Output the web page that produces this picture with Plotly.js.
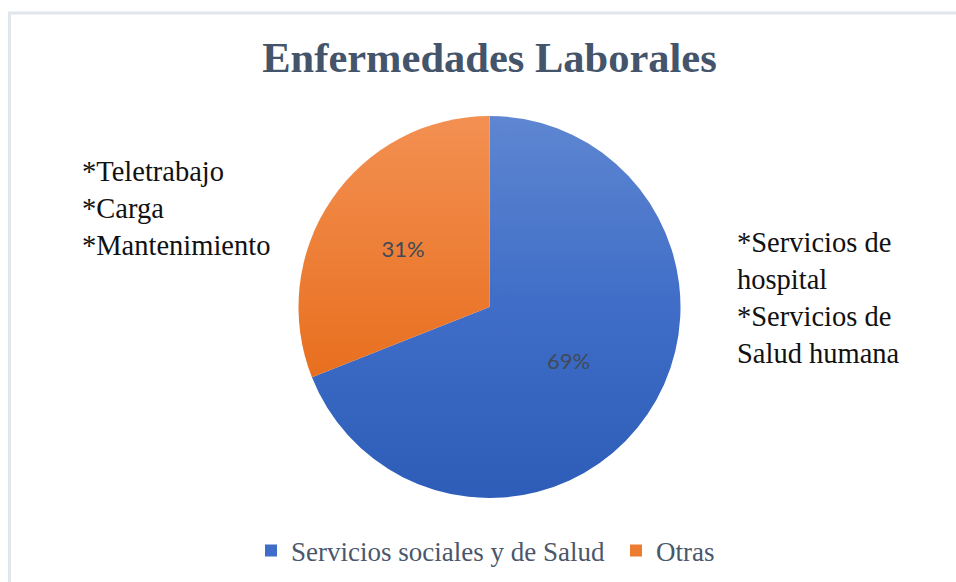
<!DOCTYPE html>
<html>
<head>
<meta charset="utf-8">
<script src="https://cdn.plot.ly/plotly-3.0.1.min.js"></script>
<style>
  html, body { margin: 0; padding: 0; background: #ffffff; }
  #chart { width: 956px; height: 582px; }
</style>
</head>
<body>
<div id="chart"></div>
<script>
// ---- data ----
const categories = ["Servicios sociales y de Salud", "Otras"];
const values = [69, 31];
const sliceColors = ["#3F6DC7", "#EE7C30"];
const titleText = "Enfermedades Laborales";
const leftNote = ["*Teletrabajo", "*Carga", "*Mantenimiento"];
const rightNote = ["*Servicios de", "hospital", "*Servicios de", "Salud humana"];

const W = 956, H = 582;
const cx = 489.5, cy = 307, R = 191;

const trace = {
  type: "pie",
  labels: categories,
  values: values,
  sort: false,
  direction: "clockwise",
  rotation: 0,
  marker: { colors: sliceColors, line: { width: 0 } },
  textinfo: "percent",
  textposition: "inside",
  insidetextorientation: "horizontal",
  textfont: { family: "Lato, 'Open Sans', sans-serif", size: 22, color: "#404A58" },
  hoverinfo: "label+percent",
  domain: {
    x: [(cx - R) / W, (cx + R) / W],
    y: [(H - cy - R) / H, (H - cy + R) / H]
  }
};

const serif = "'Liberation Serif', 'Times New Roman', serif";

const layout = {
  width: W, height: H,
  margin: { l: 0, r: 0, t: 0, b: 0, pad: 0, autoexpand: false },
  paper_bgcolor: "#ffffff",
  title: {
    text: "<b>" + titleText + "</b>",
    font: { family: serif, size: 42.5, color: "#44546A" },
    x: cx / W, xanchor: "center", xref: "paper",
    y: (H - 57) / H, yanchor: "middle", yref: "paper"
  },
  showlegend: true,
  legend: {
    orientation: "h",
    x: 251 / W, xanchor: "left",
    y: (H - 551) / H, yanchor: "middle",
    font: { family: serif, size: 27, color: "#4A576B" },
    itemwidth: 30,
    entrywidth: 320,
    entrywidthmode: "pixels",
    bgcolor: "rgba(0,0,0,0)"
  },
  annotations: [
    {
      text: leftNote.join("<br>"),
      xref: "paper", yref: "paper",
      x: 80 / W, xanchor: "left",
      y: (H - 208.5) / H, yanchor: "middle",
      align: "left", showarrow: false,
      font: { family: serif, size: 28.5, color: "#111111" }
    },
    {
      text: rightNote.join("<br>"),
      xref: "paper", yref: "paper",
      x: 735 / W, xanchor: "left",
      y: (H - 298) / H, yanchor: "middle",
      align: "left", showarrow: false,
      font: { family: serif, size: 28.5, color: "#111111" }
    }
  ],
  shapes: [
    {
      type: "rect", xref: "paper", yref: "paper",
      x0: 9.5 / W, x1: 1.05, y0: -0.05, y1: (H - 13) / H,
      line: { color: "#E1E5EC", width: 3 }, fillcolor: "rgba(0,0,0,0)",
      layer: "below"
    }
  ]
};

Plotly.newPlot("chart", [trace], layout, { displayModeBar: false, staticPlot: true }).then(function (gd) {
  // soft vertical gradient on the slices, like the original office chart
  const svg = gd.querySelector("svg.main-svg");
  const NS = "http://www.w3.org/2000/svg";
  let defs = svg.querySelector("defs");
  if (!defs) { defs = document.createElementNS(NS, "defs"); svg.insertBefore(defs, svg.firstChild); }
  const grads = [
    ["gradBlue", [["0", "#5E86D1"], ["0.5", "#3F6DC7"], ["1", "#2D5DB8"]]],
    ["gradOrange", [["0", "#F39052"], ["1", "#E86F1F"]]]
  ];
  grads.forEach(function (g) {
    const lg = document.createElementNS(NS, "linearGradient");
    lg.setAttribute("id", g[0]);
    lg.setAttribute("x1", "0"); lg.setAttribute("y1", "0");
    lg.setAttribute("x2", "0"); lg.setAttribute("y2", "1");
    g[1].forEach(function (s) {
      const st = document.createElementNS(NS, "stop");
      st.setAttribute("offset", s[0]);
      st.setAttribute("stop-color", s[1]);
      lg.appendChild(st);
    });
    defs.appendChild(lg);
  });
  const paths = gd.querySelectorAll(".slice path.surface");
  paths.forEach(function (p, i) {
    p.style.fill = "url(#" + grads[i][0] + ")";
  });
});
</script>
</body>
</html>
